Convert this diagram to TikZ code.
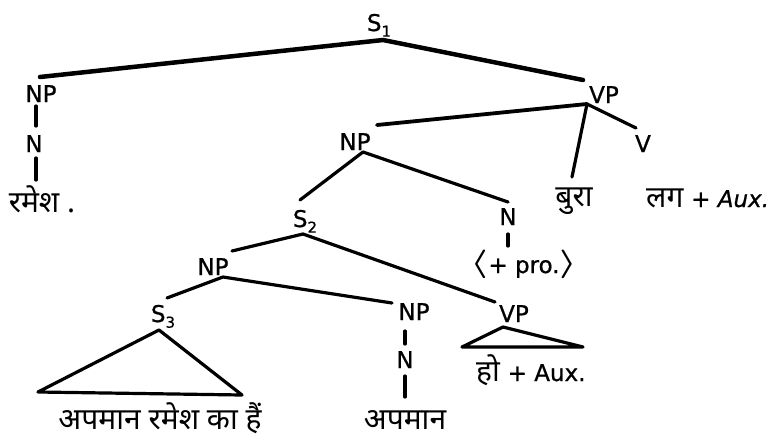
\documentclass[tikz,border=0pt]{standalone}
\usepackage{fontspec}
\setmainfont{DejaVu Sans}
\newfontfamily\labfont{DejaVu Sans}[FakeBold=0.8]
\newfontfamily\dev[Script=Devanagari]{Noto Sans}
\newcommand\lsub[1]{\raisebox{-0.45ex}{\fontsize{15}{15}\selectfont #1}}
\newcommand\bigangl[1]{\raisebox{0.1ex}{\scalebox{1.6}[1.15]{$\boldsymbol{#1}$}}}
\usepackage{amsmath}
\begin{document}
\begin{tikzpicture}[x=1pt,y=-1pt,
  lab/.style={inner sep=0pt,anchor=base,font=\labfont\fontsize{23}{23}\selectfont},
  hin/.style={inner sep=0pt,anchor=base,font=\dev\fontsize{30}{30}\selectfont},
  br/.style={line width=3.2pt,line cap=round,line join=round},
  thick br/.style={line width=4.5pt,line cap=round}]
\useasboundingbox (0,0) rectangle (773,437);
% labels
\node[lab] (s1) at (379,31) {S\lsub{1}};
\node[lab] (np1) at (41,102) {NP};
\node[lab] (n1) at (34,152) {N};
\node[hin] (w1) at (42,212) {रमेश .};
\node[lab] (vp1) at (604,103) {VP};
\node[lab] (np2) at (355,150) {NP};
\node[lab] (v) at (643,152) {V};
\node[hin] (bura) at (574,206) {बुरा};
\node[hin,anchor=base west] (lag) at (646,207) {लग {\labfont\fontsize{23}{23}\selectfont\itshape + Aux.}};
\node[lab] (n2) at (508,225) {N};
\node[lab] (pro) at (524,273) {\bigangl{\langle}+ pro.\bigangl{\rangle}};
\node[lab] (s2) at (305,227) {S\lsub{2}};
\node[lab] (np3) at (213,275) {NP};
\node[lab] (s3) at (163,322) {S\lsub{3}};
\node[lab] (np4) at (414,320) {NP};
\node[lab] (n4) at (405,368) {N};
\node[lab] (vp2) at (514,322) {VP};
\node[hin] (t3) at (160,429) {अपमान रमेश का हैं};
\node[hin] (t4) at (405,429) {अपमान};
\node[hin,anchor=base west] (t5) at (476,381) {हो {\labfont\fontsize{23}{23}\selectfont + Aux.}};
% joints
\coordinate (s1j) at (383,40);
\coordinate (np1t) at (40,77);
\coordinate (vp1t) at (583,80);
\coordinate (vp1j) at (587,104);
\coordinate (np2t) at (377,125);
\coordinate (burat) at (572,177);
\coordinate (vt) at (636,128);
\coordinate (np2j) at (363,152);
\coordinate (s2t) at (300,200);
\coordinate (n2t) at (508,202);
\coordinate (s2j) at (303,234);
\coordinate (np3t) at (232,251);
\coordinate (vp2t) at (495,302);
\coordinate (np3j) at (223,277);
\coordinate (s3t) at (167,298);
\coordinate (np4t) at (392,303);
\coordinate (s3j) at (159,330);
\coordinate (s3l) at (38,392);
\coordinate (s3r) at (242,395);
\coordinate (vp2j) at (503,327);
\coordinate (vp2l) at (462,347);
\coordinate (vp2r) at (583,347);
\coordinate (b1a) at (36,106);
\coordinate (b1b) at (36,126);
\coordinate (b2a) at (36,158);
\coordinate (b2b) at (36,180);
\coordinate (b3a) at (508,234);
\coordinate (b3b) at (508,246);
\coordinate (b4a) at (405,331);
\coordinate (b4b) at (405,344);
\coordinate (b5a) at (405,376);
\coordinate (b5b) at (405,397);
% edges
\draw[thick br] (np1t) -- (s1j) -- (vp1t);
\draw[br] (b1a) -- (b1b);
\draw[br] (b2a) -- (b2b);
\draw[br,line width=3.8pt] (np2t) -- (vp1j);
\draw[br] (vp1j) -- (burat);
\draw[br] (vp1j) -- (vt);
\draw[br] (s2t) -- (np2j) -- (n2t);
\draw[br] (b3a) -- (b3b);
\draw[br] (np3t) -- (s2j) -- (vp2t);
\draw[br] (s3t) -- (np3j) -- (np4t);
\draw[br] (s3l) -- (s3j) -- (s3r) -- cycle;
\draw[br] (vp2l) -- (vp2j) -- (vp2r) -- cycle;
\draw[br] (b4a) -- (b4b);
\draw[br] (b5a) -- (b5b);
\end{tikzpicture}
\end{document}
